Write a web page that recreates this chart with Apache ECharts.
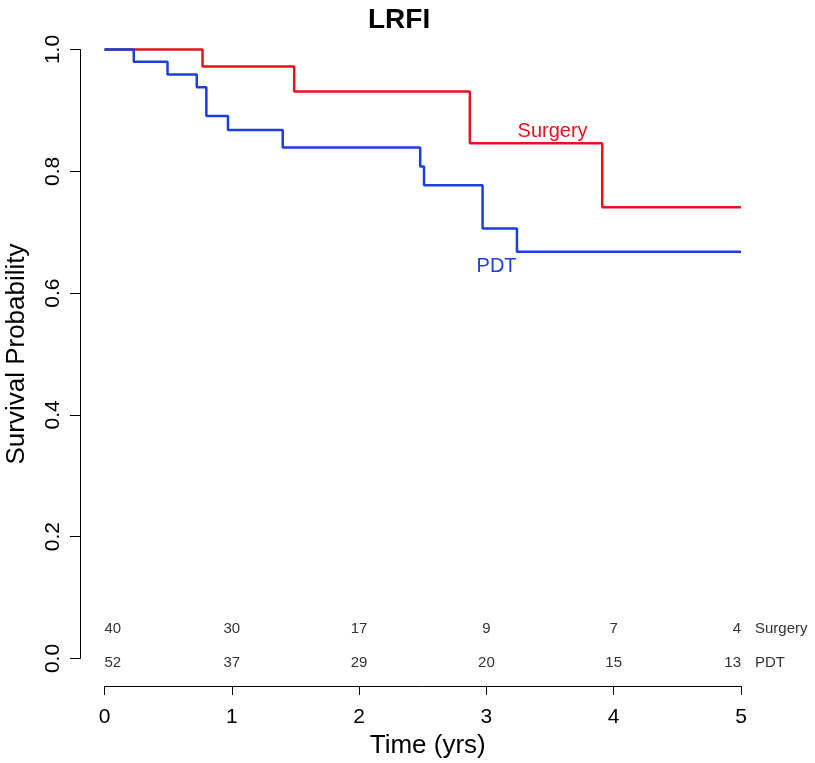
<!DOCTYPE html>
<html>
<head>
<meta charset="utf-8">
<script src="https://cdn.jsdelivr.net/npm/echarts@6/dist/echarts.min.js"></script>
<style>
html,body{margin:0;padding:0;background:#fff;}
#chart{width:815px;height:763px;}
</style>
</head>
<body>
<div id="chart"></div>
<script>
// Kaplan-Meier step points: [time (yrs), survival probability]
const surgeryTimes = [0, 0.77, 1.49, 2.87, 3.91, 5];
const surgerySurv  = [1.0, 0.972, 0.931, 0.846, 0.741, 0.741];
const pdtTimes = [0, 0.23, 0.495, 0.725, 0.80, 0.97, 1.40, 2.48, 2.51, 2.97, 3.24, 5];
const pdtSurv  = [1.0, 0.980, 0.959, 0.938, 0.891, 0.868, 0.839, 0.808, 0.777, 0.706, 0.668, 0.668];

// Numbers at risk
const riskTimes = [0, 1, 2, 3, 4, 5];
const surgeryAtRisk = [40, 30, 17, 9, 7, 4];
const pdtAtRisk = [52, 37, 29, 20, 15, 13];

const xTicks = [0, 1, 2, 3, 4, 5];
const yTicks = [0.0, 0.2, 0.4, 0.6, 0.8, 1.0];

const RED = '#e5131d';
const BLUE = '#1d3ddf';
const FONT = '"Liberation Sans", Arial, Helvetica, sans-serif';

const surgeryData = surgeryTimes.map((t, i) => [t, surgerySurv[i]]);
const pdtData = pdtTimes.map((t, i) => [t, pdtSurv[i]]);

// risk table rows placed in data space (row heights in probability units)
const ROW_SURGERY = 0.048;
const ROW_PDT = -0.007;
function riskRow(counts, rowY) {
  return riskTimes.map((t, i) => {
    const last = i === riskTimes.length - 1, first = i === 0;
    return {
      value: [t, rowY, counts[i]],
      label: { align: first ? 'left' : (last ? 'right' : 'center') }
    };
  });
}

const textSeriesBase = {
  type: 'scatter', symbolSize: 0, z: 4, clip: false, silent: true,
  itemStyle: { opacity: 1 }
};

const chart = echarts.init(document.getElementById('chart'), null, {renderer: 'canvas'});
chart.setOption({
  animation: false,
  backgroundColor: '#fff',
  textStyle: { fontFamily: FONT },
  title: {
    text: 'LRFI', left: 363, top: 1,
    textStyle: { fontSize: 28, fontWeight: 'bold', color: '#000', fontFamily: FONT }
  },
  grid: { left: 104.5, right: 74, top: 49.5, bottom: 104.5, containLabel: false, outerBoundsMode: 'none' },
  xAxis: {
    type: 'value', min: 0, max: 5, interval: 1, offset: 27.5,
    axisLine: { show: true, onZero: false, lineStyle: { color: '#000', width: 1 } },
    axisTick: { show: true, length: 9, lineStyle: { color: '#000' } },
    axisLabel: { fontSize: 21, color: '#000', margin: 21, fontFamily: FONT,
      formatter: v => xTicks.includes(v) ? String(v) : '' },
    splitLine: { show: false },
    name: 'Time (yrs)', nameLocation: 'middle', nameGap: 47,
    nameTextStyle: { fontSize: 26, color: '#000', fontFamily: FONT, padding: [0, 0, 0, 10] }
  },
  yAxis: {
    type: 'value', min: 0, max: 1, interval: 0.2, offset: 24.5,
    axisLine: { show: true, onZero: false, lineStyle: { color: '#000', width: 1 } },
    axisTick: { show: true, length: 10, lineStyle: { color: '#000' } },
    axisLabel: { fontSize: 21, color: '#000', margin: 16, rotate: 90, fontFamily: FONT,
      formatter: v => yTicks.find(t => Math.abs(t - v) < 1e-9) !== undefined ? v.toFixed(1) : '' },
    splitLine: { show: false },
    name: 'Survival Probability', nameLocation: 'middle', nameGap: 50,
    nameTextStyle: { fontSize: 26, color: '#000', fontFamily: FONT }
  },
  series: [
    {
      name: 'Surgery', type: 'line', step: 'end', data: surgeryData,
      symbol: 'none', lineStyle: { color: RED, width: 2.5 }, z: 2, clip: false
    },
    {
      name: 'PDT', type: 'line', step: 'end', data: pdtData,
      symbol: 'none', lineStyle: { color: BLUE, width: 2.5 }, z: 3, clip: false
    },
    Object.assign({}, textSeriesBase, {
      name: 'curveLabels',
      data: [
        { value: [3.52, 0.865], label: { formatter: 'Surgery', color: RED } },
        { value: [3.08, 0.643], label: { formatter: 'PDT', color: BLUE } }
      ],
      label: { show: true, position: 'inside', fontSize: 20, fontFamily: FONT, opacity: 1 }
    }),
    Object.assign({}, textSeriesBase, {
      name: 'riskSurgery',
      data: riskRow(surgeryAtRisk, ROW_SURGERY),
      label: { show: true, position: 'inside', fontSize: 15, color: '#333', fontFamily: FONT, opacity: 1,
        formatter: p => String(p.value[2]) }
    }),
    Object.assign({}, textSeriesBase, {
      name: 'riskPDT',
      data: riskRow(pdtAtRisk, ROW_PDT),
      label: { show: true, position: 'inside', fontSize: 15, color: '#333', fontFamily: FONT, opacity: 1,
        formatter: p => String(p.value[2]) }
    }),
    Object.assign({}, textSeriesBase, {
      name: 'riskRowNames',
      data: [
        { value: [5, ROW_SURGERY], label: { formatter: 'Surgery' } },
        { value: [5, ROW_PDT], label: { formatter: 'PDT' } }
      ],
      label: { show: true, position: 'right', distance: 14, fontSize: 15, color: '#333', fontFamily: FONT, opacity: 1 }
    })
  ]
});
</script>
</body>
</html>
